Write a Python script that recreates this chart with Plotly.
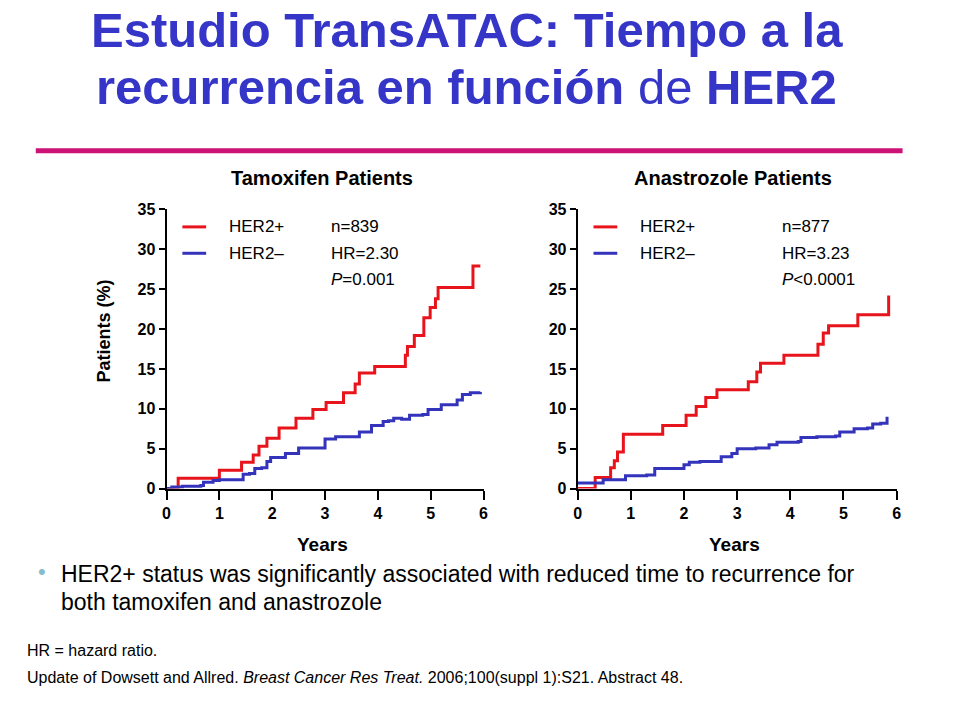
import plotly.graph_objects as go

# Tamoxifen
tam_pos_x = [0, 0.22, 1.0, 1.42, 1.64, 1.75, 1.9, 2.13, 2.45, 2.77, 3.02, 3.35, 3.57, 3.65, 3.94, 4.52, 4.56, 4.69, 4.87, 4.99, 5.09, 5.14, 5.8, 5.94]
tam_pos_y = [0, 1.3, 2.3, 3.3, 4.2, 5.3, 6.3, 7.6, 8.8, 9.9, 10.8, 12.0, 13.1, 14.5, 15.3, 16.7, 17.8, 19.2, 21.4, 22.7, 23.8, 25.2, 27.9, 27.9]
tam_neg_x = [0, 0.1, 0.3, 0.65, 0.7, 0.88, 1.0, 1.25, 1.45, 1.57, 1.67, 1.8, 1.9, 1.97, 2.2, 2.25, 2.5, 2.7, 3.0, 3.2, 3.55, 3.65, 3.8, 3.88, 4.05, 4.1, 4.2, 4.3, 4.45, 4.6, 4.85, 4.95, 5.2, 5.5, 5.6, 5.75, 5.94]
tam_neg_y = [0, 0.2, 0.3, 0.4, 0.8, 1.0, 1.1, 1.1, 1.8, 1.9, 2.5, 2.6, 3.4, 3.9, 3.9, 4.4, 5.1, 5.1, 6.2, 6.5, 6.5, 7.1, 7.1, 7.9, 7.9, 8.4, 8.5, 8.8, 8.7, 9.2, 9.3, 9.9, 10.5, 11.1, 11.8, 12.0, 12.1]
# Anastrozole
ana_pos_x = [0, 0.33, 0.62, 0.69, 0.75, 0.86, 1.6, 2.04, 2.23, 2.41, 2.62, 3.21, 3.37, 3.44, 3.88, 4.52, 4.62, 4.72, 5.27, 5.85]
ana_pos_y = [0, 1.4, 2.6, 3.5, 4.6, 6.8, 7.9, 9.2, 10.3, 11.4, 12.4, 13.4, 14.6, 15.7, 16.7, 18.1, 19.5, 20.4, 21.8, 24.2]
ana_neg_x = [0, 0.48, 0.85, 0.9, 1.3, 1.45, 1.8, 2.0, 2.1, 2.3, 2.65, 2.7, 2.9, 3.0, 3.35, 3.6, 3.75, 4.15, 4.2, 4.5, 4.85, 4.93, 5.2, 5.45, 5.55, 5.7, 5.82]
ana_neg_y = [0.7, 1.1, 1.1, 1.6, 1.7, 2.5, 2.5, 3.0, 3.3, 3.4, 3.4, 4.0, 4.4, 5.0, 5.1, 5.5, 5.8, 5.9, 6.4, 6.5, 6.6, 7.1, 7.5, 7.6, 8.1, 8.2, 9.0]

ticks_y = [0, 5, 10, 15, 20, 25, 30, 35]
ticks_x = [0, 1, 2, 3, 4, 5, 6]
RED, BLUE = "#e8141c", "#3333bb"

DX, DY = -11, -10  # rendering offset compensation

fig = go.Figure()
for xs, ys, c, ax in [(tam_pos_x, tam_pos_y, RED, "1"), (tam_neg_x, tam_neg_y, BLUE, "1"),
                      (ana_pos_x, ana_pos_y, RED, "2"), (ana_neg_x, ana_neg_y, BLUE, "2")]:
    fig.add_trace(go.Scatter(x=xs, y=ys, mode="lines", line=dict(color=c, width=3, shape="hv"),
                             xaxis="x" + ("" if ax == "1" else "2"), yaxis="y" + ("" if ax == "1" else "2"),
                             showlegend=False))

axfont = dict(family="Liberation Sans", size=16, color="black", weight="bold")
common_x = dict(range=[0, 6], tickvals=ticks_x, showgrid=False, zeroline=False, showline=True,
                linecolor="black", linewidth=2, ticks="outside", ticklen=9, tickwidth=2,
                tickcolor="black", tickfont=axfont, fixedrange=True)
common_y = dict(range=[0, 35], tickvals=ticks_y, showgrid=False, zeroline=False, showline=True,
                linecolor="black", linewidth=2, ticks="outside", ticklen=6, tickwidth=2,
                tickcolor="black", tickfont=axfont, fixedrange=True)
def px(x): return (x + DX) / 960
def py(y): return 1 - (y + DY) / 720
fig.update_layout(
    width=960, height=720, margin=dict(l=0, r=0, t=0, b=0),
    paper_bgcolor="white", plot_bgcolor="white",
    font=dict(family="Liberation Sans"),
    xaxis=dict(domain=[px(167), px(487)], anchor="y", **common_x),
    yaxis=dict(domain=[py(494), py(208)], anchor="x", **common_y),
    xaxis2=dict(domain=[px(582), px(904)], anchor="y2", **common_x),
    yaxis2=dict(domain=[py(494), py(208)], anchor="x2", **common_y),
)

anns = []
def txt(x, y, t, size=14, bold=False, color="black", xanchor="left"):
    anns.append(dict(x=px(x), y=py(y), xref="paper", yref="paper", text=("<b>%s</b>" % t) if bold else t,
                     showarrow=False, xanchor=xanchor, yanchor="middle",
                     font=dict(family="Liberation Sans", size=size, color=color)))

TB = "#3535c8"
txt(470, 52 - 28, "<b>Estudio TransATAC: Tiempo a la</b>", 49, color=TB, xanchor="center")
txt(470, 111 - 28, "<b>recurrencia en función</b> de <b>HER2</b>", 49, color=TB, xanchor="center")
txt(324, 176, "Tamoxifen Patients", 20, True, xanchor="center")
txt(739, 176, "Anastrozole Patients", 20, True, xanchor="center")
txt(324, 551, "Years", 19, True, xanchor="center")
txt(740, 551, "Years", 19, True, xanchor="center")
anns.append(dict(x=px(92), y=py(333), xref="paper", yref="paper", showarrow=False, textangle=-90,
                 text="<b>Patients (%)</b>", font=dict(family="Liberation Sans", size=18, color="black")))
for x0 in (0, 415):
    txt(x0 + 228, 226, "HER2+", 17)
    txt(x0 + 228, 253, "HER2–", 17)
for stats, sx in [(["n=839", "HR=2.30", "<i>P</i>=0.001"], 331), (["n=877", "HR=3.23", "<i>P</i><0.0001"], 786)]:
    for i, s in enumerate(stats):
        txt(sx, 226 + 27*i, s, 17)
txt(58, 582, "HER2+ status was significantly associated with reduced time to recurrence for", 23)
txt(58, 610, "both tamoxifen and anastrozole", 23)
txt(35, 579, "•", 22, color="#88bbcc")
txt(24, 660, "HR = hazard ratio.", 16)
txt(24, 687, "Update of Dowsett and Allred. <i>Breast Cancer Res Treat.</i> 2006;100(suppl 1):S21. Abstract 48.", 16)
fig.update_layout(annotations=anns)

shapes = [dict(type="line", xref="paper", yref="paper", x0=px(35), x1=px(910), y0=py(148), y1=py(148),
               line=dict(color="#cc1177", width=5))]
for x0 in (183, 598):
    shapes.append(dict(type="line", xref="paper", yref="paper", x0=px(x0), x1=px(x0+24), y0=py(226), y1=py(226), line=dict(color=RED, width=3)))
    shapes.append(dict(type="line", xref="paper", yref="paper", x0=px(x0), x1=px(x0+24), y0=py(253), y1=py(253), line=dict(color=BLUE, width=3)))
fig.update_layout(shapes=shapes)
fig.write_html("out.html")
